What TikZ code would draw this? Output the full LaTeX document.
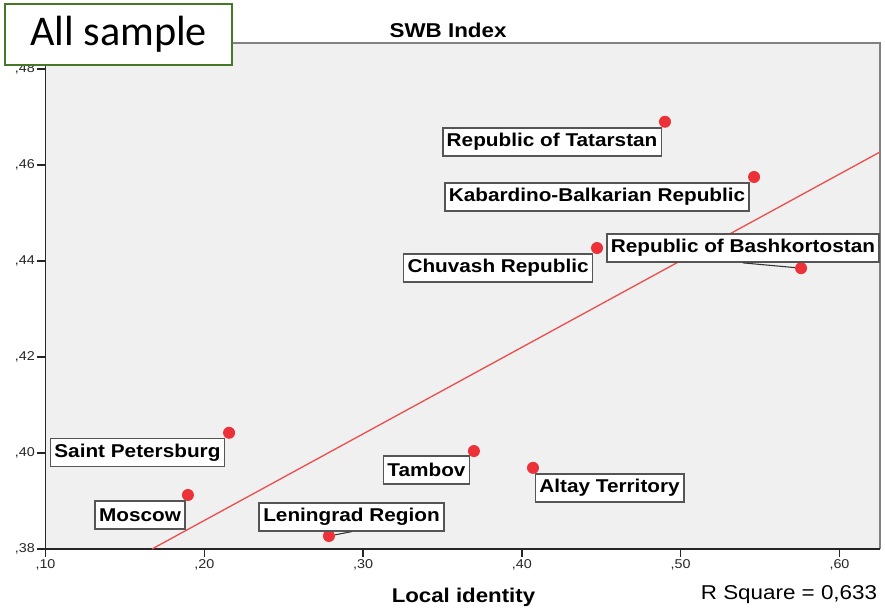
\documentclass[tikz,border=0pt]{standalone}
\usepackage{fontspec}
\setmainfont{Liberation Sans}[FakeStretch=1.12]
\newfontfamily\panelfont{Carlito}
\usepackage{tikz}
\usetikzlibrary{positioning}
\definecolor{dotred}{RGB}{236,50,56}
\definecolor{fitred}{RGB}{236,80,80}
\definecolor{panel}{RGB}{240,240,240}
\definecolor{rim}{RGB}{128,128,128}
\definecolor{tagline}{RGB}{85,85,85}
\definecolor{green}{RGB}{70,120,40}
\tikzset{
  regdot/.style={circle,fill=dotred,inner sep=0pt,minimum size=9pt},
  tag/.style={draw=tagline,line width=1.3pt,fill=white,inner xsep=3pt,inner ysep=0pt,
    minimum height=21pt,font=\bfseries\fontsize{13.9}{16}\selectfont},
  ticklab/.style={font=\fontsize{9.6}{11}\selectfont,inner sep=1.5pt}
}

\begin{document}
\begin{tikzpicture}[x=11.91pt,y=36pt]
\useasboundingbox (7.135,36.667) rectangle (62.866,49.4375);
% plot panel
\fill[panel] (10,38) rectangle (62.55,48.54);
\draw[rim,line width=1.5pt] (10,48.54) -- (62.55,48.54) -- (62.55,38);
\draw[black!85,line width=1.1pt] (10,48.54) -- (10,38) -- (62.55,38);
\foreach \v in {38,40,...,48}
  \draw[black!85,line width=1.1pt] (10,\v) -- ++(-6pt,0) node[left,ticklab]{,\v};
\foreach \v in {10,20,...,60}
  \draw[black!85,line width=1.1pt] (\v,38) -- ++(0,-6pt) node[below,ticklab]{,\v};
\node[font=\bfseries\fontsize{15}{18}\selectfont] (title) at (35.35,48.81) {SWB Index};
\node[font=\bfseries\fontsize{14.9}{18}\selectfont] (xlabel) at (36.32,37.0) {Local identity};
\node[font=\fontsize{15}{18}\selectfont] (rsquare) at (56.82,37.04) {R Square = 0,633};
% fit line
\draw[fitred,line width=1pt] (16.71,38) -- (62.55,46.27);
% regions
\node[regdot] (tatarstan) at (49.01,46.90) {};
\node[regdot] (kabardino) at (54.62,45.75) {};
\node[regdot] (bashkortostan) at (57.58,43.85) {};
\node[regdot] (chuvash) at (44.73,44.27) {};
\node[regdot] (spb) at (21.56,40.42) {};
\node[regdot] (moscow) at (18.97,39.125) {};
\node[regdot] (leningrad) at (27.85,38.27) {};
\node[regdot] (tambov) at (36.98,40.04) {};
\node[regdot] (altay) at (40.70,39.69) {};
\node[tag] (tatarstanlab) at (41.90,46.48) {Republic of Tatarstan};
\node[tag] (kabardinolab) at (44.73,45.33) {Kabardino-Balkarian Republic};
\node[tag] (bashkortostanlab) at (53.92,44.27) {Republic of Bashkortostan};
\node[tag] (chuvashlab) at (38.50,43.85) {Chuvash Republic};
\node[tag] (spblab) at (15.79,40.01) {Saint Petersburg};
\node[tag] (moscowlab) at (15.95,38.71) {Moscow};
\node[tag] (leningradlab) at (29.27,38.67) {Leningrad Region};
\node[tag] (tambovlab) at (33.99,39.65) {Tambov};
\node[tag] (altaylab) at (45.52,39.27) {Altay Territory};
\draw[black!80,line width=.8pt] (bashkortostanlab.south) -- (bashkortostan);
\draw[black!80,line width=.8pt] (leningradlab.south) -- (leningrad);
% sample box
\node[draw=green,line width=1.7pt,fill=white,minimum width=170pt,minimum height=45.75pt,
  font=\panelfont\fontsize{31.7}{36}\selectfont] (sample) at (14.60,48.72) {All sample};
\end{tikzpicture}
\end{document}
